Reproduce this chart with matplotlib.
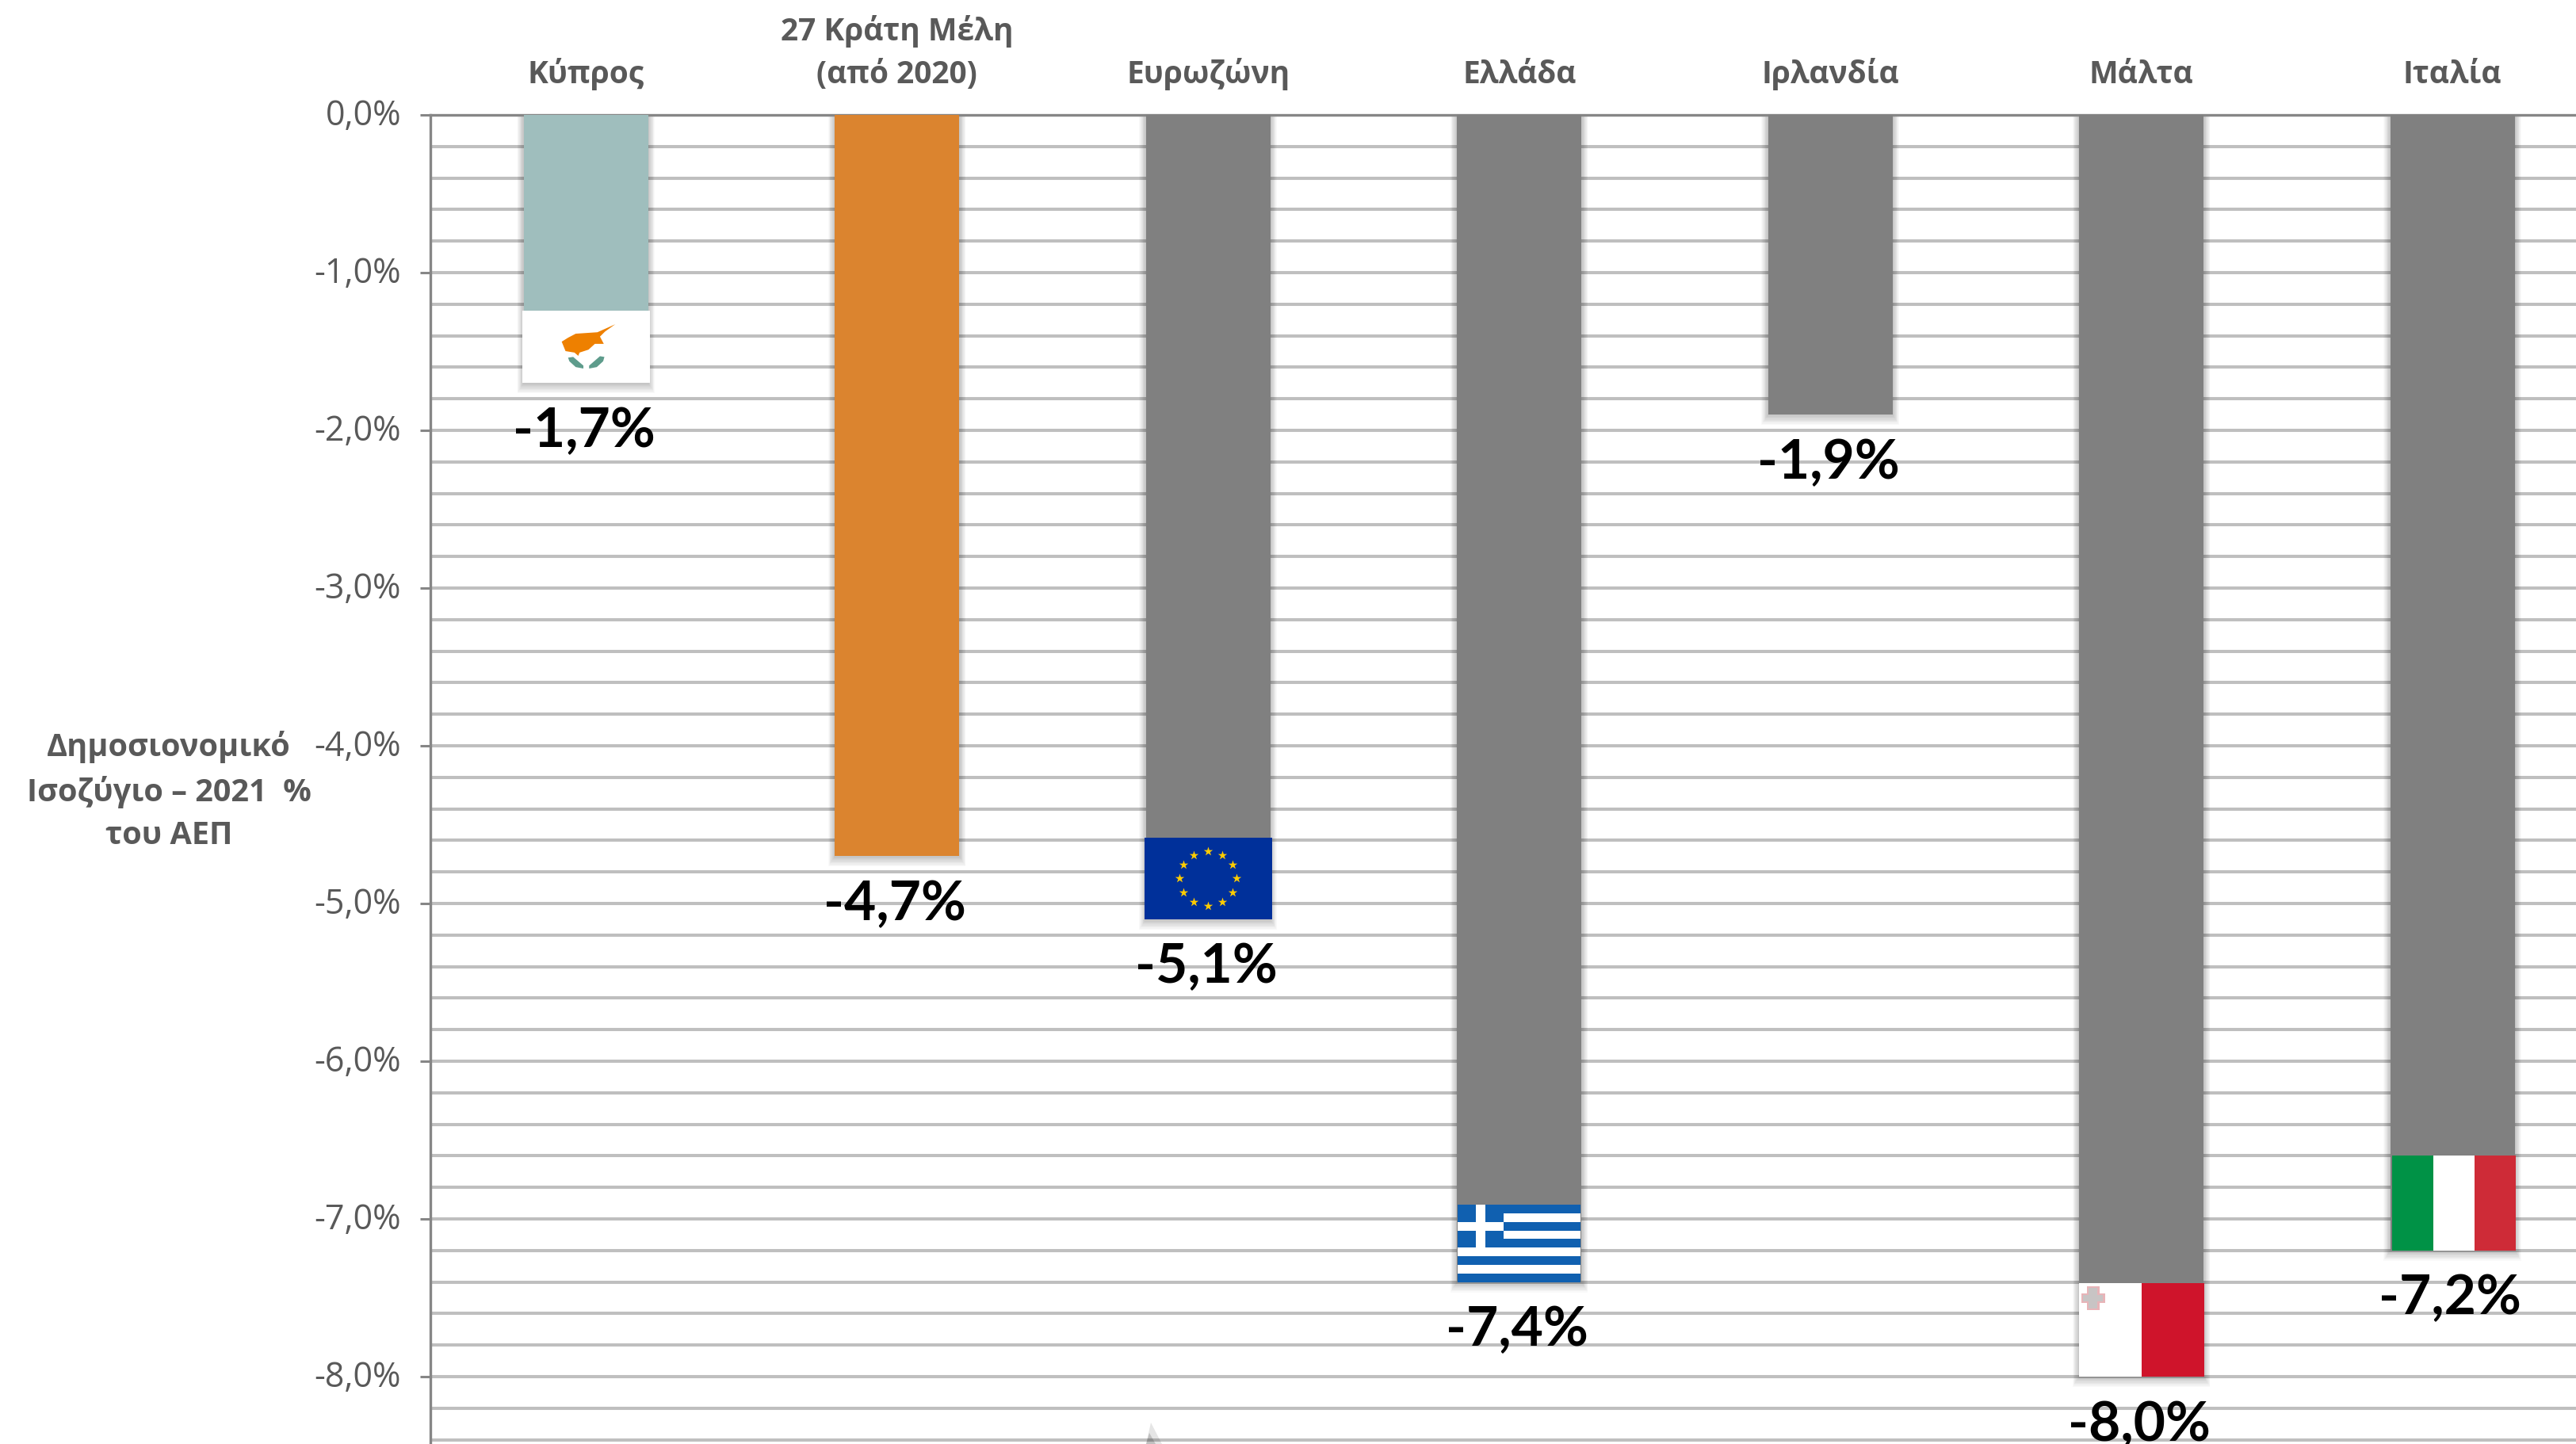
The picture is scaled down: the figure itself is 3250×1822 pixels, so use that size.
import matplotlib
matplotlib.use("Agg")
import matplotlib.pyplot as plt
import matplotlib.transforms as mtransforms
import numpy as np
from matplotlib.patches import Polygon, Rectangle

plt.rcParams["font.family"] = ["Open Sans", "Liberation Sans", "DejaVu Sans"]

categories = ["Κύπρος", "27 Κράτη Μέλη\n(από 2020)", "Ευρωζώνη", "Ελλάδα",
              "Ιρλανδία", "Μάλτα", "Ιταλία"]
balance = [-1.7, -4.7, -5.1, -7.4, -1.9, -8.0, -7.2]
bar_colors = ["#9FBEBD", "#DB842F", "#808080", "#808080", "#808080", "#808080", "#808080"]
value_labels = ["-1,7%", "-4,7%", "-5,1%", "-7,4%", "-1,9%", "-8,0%", "-7,2%"]
major_ticks = [0, -1, -2, -3, -4, -5, -6, -7, -8]
major_labels = ["0,0%", "-1,0%", "-2,0%", "-3,0%", "-4,0%", "-5,0%", "-6,0%", "-7,0%", "-8,0%"]
ylabel_text = "Δημοσιονομικό\nΙσοζύγιο – 2021  %\nτου ΑΕΠ"

W, H = 3250, 1822
GREY_TEXT = "#595959"
BAR_W = 0.4


def flag_box(i, bottom, height, width=0.41, shift=0.0):
    """Return a mapper from flag coordinates (0-1) to data coordinates."""
    x0 = i + shift - width / 2

    def to_data(u, v):
        return x0 + np.asarray(u) * width, bottom + np.asarray(v) * height

    return to_data


def fill(ax, to_data, u0, u1, v0, v1, color, z=4):
    x0, y0 = to_data(u0, v0)
    x1, y1 = to_data(u1, v1)
    ax.add_patch(Rectangle((x0, y0), x1 - x0, y1 - y0, fc=color, ec="none", zorder=z))


def poly(ax, to_data, pts, color, z=5):
    pts = np.array(pts, dtype=float)
    x, y = to_data(pts[:, 0], pts[:, 1])
    ax.add_patch(Polygon(np.column_stack([x, y]), fc=color, ec="none", zorder=z))


def flag_cyprus(ax, i, bottom):
    to_data = flag_box(i, bottom, 0.46)
    fill(ax, to_data, 0, 1, 0, 1, "white")
    island = [(.73, .81), (.65, .71), (.61, .64), (.64, .54), (.57, .54), (.52, .46),
              (.45, .42), (.44, .375), (.41, .42), (.34, .44), (.31, .57), (.36, .625),
              (.42, .68), (.59, .70)]
    poly(ax, to_data, island, "#EE8000")
    for leaf in ([(.36, .35), (.40, .36), (.48, .24), (.48, .20), (.42, .22), (.37, .30)],
                 [(.645, .36), (.61, .37), (.525, .24), (.525, .20), (.585, .22), (.635, .30)]):
        poly(ax, to_data, leaf, "#5E9C8C")


def flag_eu(ax, i, bottom):
    to_data = flag_box(i, bottom, 0.517)
    fill(ax, to_data, 0, 1, 0, 1, "#00309A")
    angles = np.deg2rad(np.arange(0, 360, 30))
    sx, sy = to_data(0.5 + 0.222 * np.cos(angles), 0.5 + 0.335 * np.sin(angles))
    ax.scatter(sx, sy, marker="*", s=75, color="#FFCC00", linewidths=0, zorder=5)


def flag_greece(ax, i, bottom):
    to_data = flag_box(i, bottom, 0.49, width=0.395)
    blue = "#1060B0"
    fill(ax, to_data, 0, 1, 0, 1, blue)
    for k in range(1, 9, 2):
        fill(ax, to_data, 0, 1, k / 9, (k + 1) / 9, "white")
    fill(ax, to_data, 0, 0.37, 4 / 9, 1, blue, z=5)
    fill(ax, to_data, 0.148, 0.222, 4 / 9, 1, "white", z=6)
    fill(ax, to_data, 0, 0.37, 6 / 9, 7 / 9, "white", z=6)


def flag_malta(ax, i, bottom):
    to_data = flag_box(i, bottom, 0.593, width=0.403)
    fill(ax, to_data, 0, 0.5, 0, 1, "white")
    fill(ax, to_data, 0.5, 1, 0, 1, "#CF142B")
    fill(ax, to_data, 0.065, 0.165, 0.71, 0.97, "#E8B4B8", z=5)
    fill(ax, to_data, 0.02, 0.21, 0.79, 0.89, "#E8B4B8", z=5)
    fill(ax, to_data, 0.08, 0.15, 0.73, 0.95, "#C8C4C4", z=6)
    fill(ax, to_data, 0.035, 0.195, 0.805, 0.875, "#C8C4C4", z=6)


def flag_italy(ax, i, bottom):
    to_data = flag_box(i, bottom, 0.60, width=0.398, shift=0.005)
    fill(ax, to_data, 0, 1 / 3, 0, 1, "#009246")
    fill(ax, to_data, 1 / 3, 2 / 3, 0, 1, "white")
    fill(ax, to_data, 2 / 3, 1, 0, 1, "#CE2B37")


def soft_shadow(ax, x, y, bar_width):
    # stacked see-through bars give the blurred edge of the original
    for k in range(1, 11):
        ax.bar(x, y - 0.0065 * k, width=bar_width + 0.0042 * k, color="black",
               alpha=0.025, linewidth=0, zorder=2)


fig = plt.figure(figsize=(W / 100, H / 100), dpi=100, facecolor="white")
ax = fig.add_axes([543 / W, 0, 1 - 543 / W, 1 - 145 / H])
x = np.arange(len(categories))

ax.set_xlim(-0.5, 6.397)
ax.set_ylim(-8.427, 0)

ax.set_yticks(major_ticks)
ax.set_yticklabels(major_labels)
ax.set_yticks(np.arange(-8.4, 0.01, 0.2), minor=True)
ax.grid(True, which="both", axis="y", color="#BFBFBF", linewidth=2.9, zorder=1)
ax.set_axisbelow(True)
ax.tick_params(axis="y", which="major", length=9.5, width=2.2, color="#868686",
               labelsize=31, labelcolor=GREY_TEXT, pad=17)
ax.tick_params(axis="y", which="minor", length=0)
# the font sits a little low, lift the tick labels
lift = mtransforms.ScaledTranslation(0, 4 / 100, fig.dpi_scale_trans)
for lab in ax.get_yticklabels():
    lab.set_transform(lab.get_transform() + lift)

ax.xaxis.tick_top()
ax.set_xticks(x)
ax.set_xticklabels(categories, fontweight="bold", fontsize=28, color=GREY_TEXT,
                   linespacing=1.5, family=["Open Sans", "Liberation Sans"])
ax.tick_params(axis="x", length=0, pad=22)

for side in ("right", "bottom"):
    ax.spines[side].set_visible(False)
for side in ("left", "top"):
    ax.spines[side].set_color("#868686")
    ax.spines[side].set_linewidth(2.4)

for xi, val in zip(x, balance):
    soft_shadow(ax, xi, val, BAR_W)
ax.bar(x, balance, width=BAR_W, color=bar_colors, linewidth=0, zorder=3)

flag_cyprus(ax, 0, balance[0])
flag_eu(ax, 2, balance[2])
flag_greece(ax, 3, balance[3])
flag_malta(ax, 5, balance[5])
flag_italy(ax, 6, balance[6])

for xi, val, lab in zip(x, balance, value_labels):
    ax.annotate(lab, xy=(xi, val), xytext=(-2, -44), textcoords="offset points",
                ha="center", va="center", fontsize=50, fontweight="bold",
                family=["Lato", "Open Sans"], color="black", zorder=6,
                annotation_clip=False)

fig.text(213 / W, 1 - 998 / H, ylabel_text, ha="center", va="center", fontsize=28.5,
         fontweight="bold", color=GREY_TEXT, linespacing=1.5)

# faint smudge at the bottom edge of the original
for pts, alpha in (([(1446, 1822), (1452, 1795), (1466, 1822)], 0.10),
                   ([(1446, 1822), (1450, 1808), (1458, 1822)], 0.16)):
    fig.add_artist(Polygon([(px / W, 1 - py / H) for px, py in pts], fc="black", ec="none",
                           alpha=alpha, transform=fig.transFigure, zorder=5))

fig.savefig("out.png", dpi=100, facecolor="white")
